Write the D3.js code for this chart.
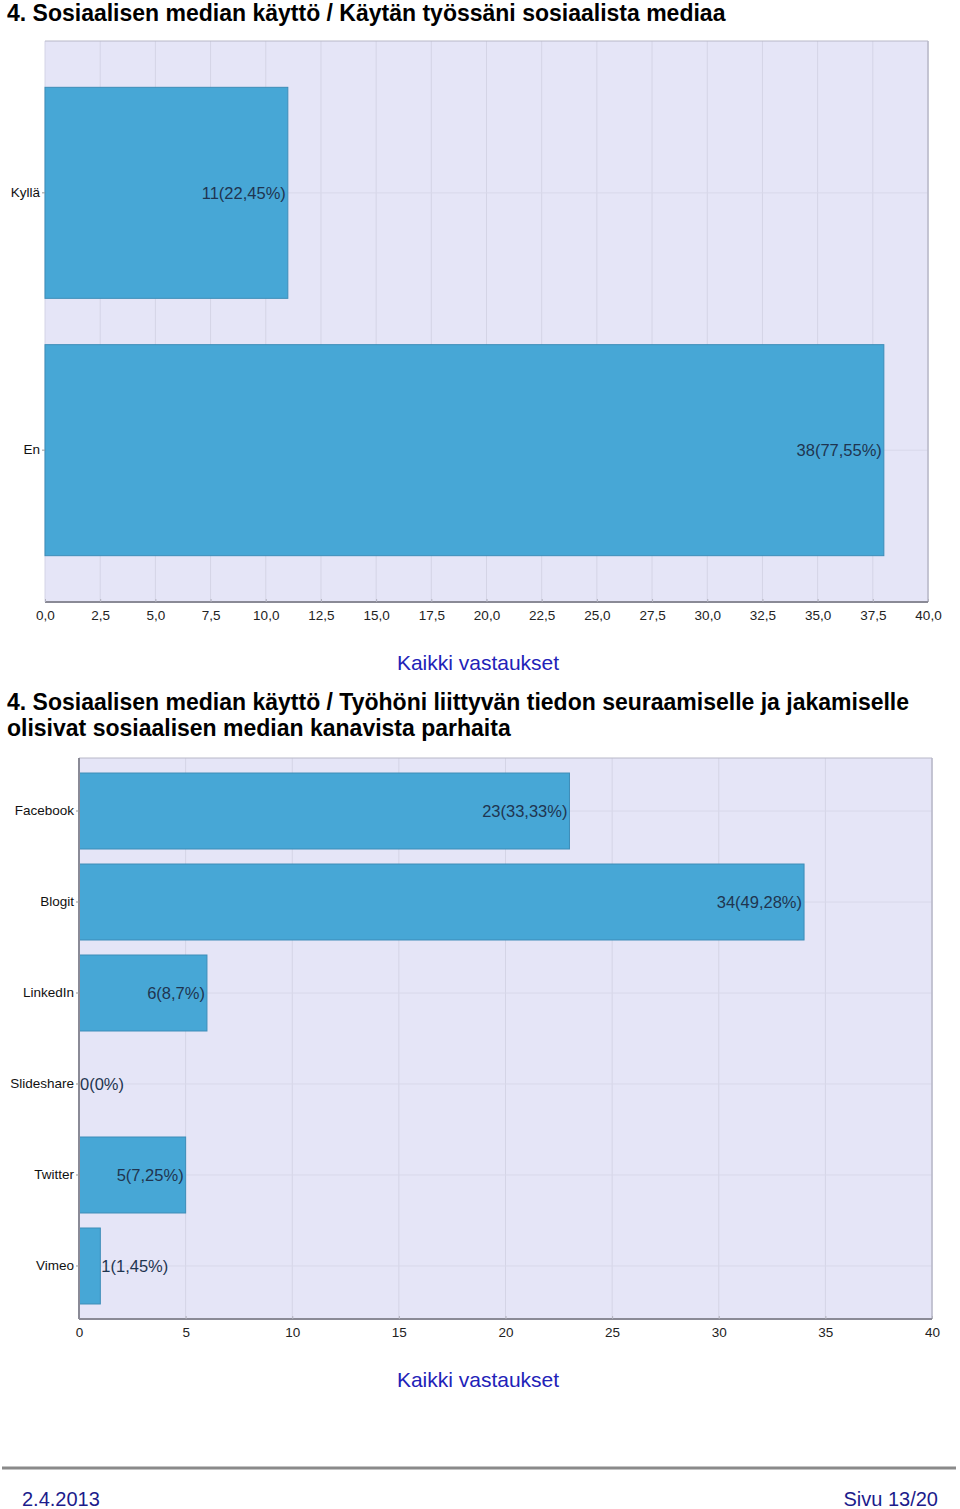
<!DOCTYPE html>
<html>
<head>
<meta charset="utf-8">
<script src="https://cdnjs.cloudflare.com/ajax/libs/d3/7.8.5/d3.min.js"></script>
<style>
  body { margin: 0; background: #fff; font-family: "Liberation Sans", Arial, sans-serif; }
  svg text { font-family: "Liberation Sans", Arial, sans-serif; }
</style>
</head>
<body>
<svg id="page" width="960" height="1509"></svg>
<script>
// chart 1 data
var cats1 = ["Kyllä", "En"];
var vals1 = [11, 38];
var labels1 = ["11(22,45%)", "38(77,55%)"];
var ticks1 = [0, 2.5, 5, 7.5, 10, 12.5, 15, 17.5, 20, 22.5, 25, 27.5, 30, 32.5, 35, 37.5, 40];

// chart 2 data
var cats2 = ["Facebook", "Blogit", "LinkedIn", "Slideshare", "Twitter", "Vimeo"];
var vals2 = [23, 34, 6, 0, 5, 1];
var labels2 = ["23(33,33%)", "34(49,28%)", "6(8,7%)", "0(0%)", "5(7,25%)", "1(1,45%)"];
var ticks2 = [0, 5, 10, 15, 20, 25, 30, 35, 40];

var title1 = ["4. Sosiaalisen median käyttö / Käytän työssäni sosiaalista mediaa"];
var title2 = ["4. Sosiaalisen median käyttö / Työhöni liittyvän tiedon seuraamiselle ja jakamiselle",
              "olisivat sosiaalisen median kanavista parhaita"];

var svg = d3.select("#page");

function titleText(lines, y0) {
  svg.selectAll(null).data(lines).enter().append("text")
    .attr("x", 7).attr("y", function(d, i) { return y0 + i * 26; })
    .style("font-size", "23px").style("font-weight", "bold").attr("fill", "#000")
    .text(function(d) { return d; });
}

function drawChart(o) {
  var x = d3.scaleLinear().domain([0, 40]).range([o.left, o.right]);
  var y = d3.scaleBand().domain(o.cats).range([o.top, o.bottom]).padding(o.pad);
  var g = svg.append("g");

  g.append("rect").attr("x", o.left).attr("y", o.top)
    .attr("width", o.right - o.left).attr("height", o.bottom - o.top)
    .attr("fill", "#e5e5f7");

  // gridlines
  g.selectAll(".vg").data(o.ticks).enter().append("line")
    .attr("x1", function(d) { return x(d); }).attr("x2", function(d) { return x(d); })
    .attr("y1", o.top).attr("y2", o.bottom)
    .attr("stroke", "#d4d4e6").attr("stroke-width", 1);
  g.selectAll(".hg").data(o.cats).enter().append("line")
    .attr("x1", o.left).attr("x2", o.right)
    .attr("y1", function(d) { return y(d) + y.bandwidth() / 2; })
    .attr("y2", function(d) { return y(d) + y.bandwidth() / 2; })
    .attr("stroke", "#d8d8ea").attr("stroke-width", 1);

  // frame: top and right light, bottom darker
  g.append("line").attr("x1", o.left).attr("x2", o.right).attr("y1", o.top).attr("y2", o.top)
    .attr("stroke", "#b8b8c8");
  g.append("line").attr("x1", o.right).attr("x2", o.right).attr("y1", o.top).attr("y2", o.bottom)
    .attr("stroke", "#b8b8c8").attr("stroke-width", 1.5);

  // bars
  g.selectAll(".bar").data(o.vals).enter().append("rect")
    .attr("x", x(0))
    .attr("y", function(d, i) { return y(o.cats[i]); })
    .attr("width", function(d) { return x(d) - x(0); })
    .attr("height", y.bandwidth())
    .attr("fill", "#47a7d6").attr("stroke", "#3d8db8").attr("stroke-width", 1)
    .style("display", function(d) { return d > 0 ? null : "none"; });

  // value labels
  g.selectAll(".vl").data(o.labels).enter().append("text")
    .attr("y", function(d, i) { return y(o.cats[i]) + y.bandwidth() / 2; })
    .attr("dy", "0.35em")
    .style("font-size", "16.5px").attr("fill", "#1f3550")
    .text(function(d) { return d; })
    .each(function(d, i) {
      var w = this.getComputedTextLength();
      var bw = x(o.vals[i]) - x(0);
      if (w + 4 < bw) {
        d3.select(this).attr("x", x(o.vals[i]) - 2).attr("text-anchor", "end");
      } else {
        d3.select(this).attr("x", x(o.vals[i]) + 1).attr("text-anchor", "start");
      }
    });

  // x axis
  var xa = g.append("g").attr("transform", "translate(0," + o.bottom + ")")
    .call(d3.axisBottom(x).tickValues(o.ticks).tickSize(3).tickPadding(5)
      .tickFormat(o.fmt));
  xa.select(".domain").attr("stroke", "#8a8a96").attr("stroke-width", 2).attr("d", "M" + o.left + ",0H" + o.right);
  xa.selectAll(".tick line").attr("stroke", "#b0b0bc").attr("transform", "translate(0,-3)");
  xa.selectAll(".tick text").style("font-size", "13.5px").attr("fill", "#222").attr("font-family", null);

  // y axis
  var ya = g.append("g").attr("transform", "translate(" + o.left + ",0)")
    .call(d3.axisLeft(y).tickSize(3).tickPadding(2));
  ya.select(".domain").attr("stroke", o.yLine ? "#8a8a96" : "none").attr("stroke-width", 2)
    .attr("d", "M0," + o.top + "V" + o.bottom);
  ya.selectAll(".tick line").attr("stroke", "#999");
  ya.selectAll(".tick text").style("font-size", "13.5px").attr("fill", "#111").attr("font-family", null);

  // caption
  svg.append("text").attr("x", 478).attr("y", o.capY).attr("text-anchor", "middle")
    .style("font-size", "21px").attr("fill", "#2222b8").text("Kaikki vastaukset");
}

titleText(title1, 21);
drawChart({
  cats: cats1, vals: vals1, labels: labels1, ticks: ticks1,
  left: 45, right: 928, top: 41, bottom: 602, pad: 0.18,
  fmt: function(d) { return d3.format(".1f")(d).replace(".", ","); },
  yLine: false, capY: 670
});

titleText(title2, 710);
drawChart({
  cats: cats2, vals: vals2, labels: labels2, ticks: ticks2,
  left: 79, right: 932, top: 758, bottom: 1319, pad: 0.165,
  fmt: d3.format("d"),
  yLine: true, capY: 1387
});

// footer
svg.append("line").attr("x1", 2).attr("x2", 956).attr("y1", 1468).attr("y2", 1468)
  .attr("stroke", "#8a8a8a").attr("stroke-width", 3);
svg.append("text").attr("x", 22).attr("y", 1506).style("font-size", "20px")
  .attr("fill", "#1c1c8c").text("2.4.2013");
svg.append("text").attr("x", 938).attr("y", 1506).attr("text-anchor", "end").style("font-size", "20px")
  .attr("fill", "#1c1c8c").text("Sivu 13/20");
</script>
</body>
</html>
